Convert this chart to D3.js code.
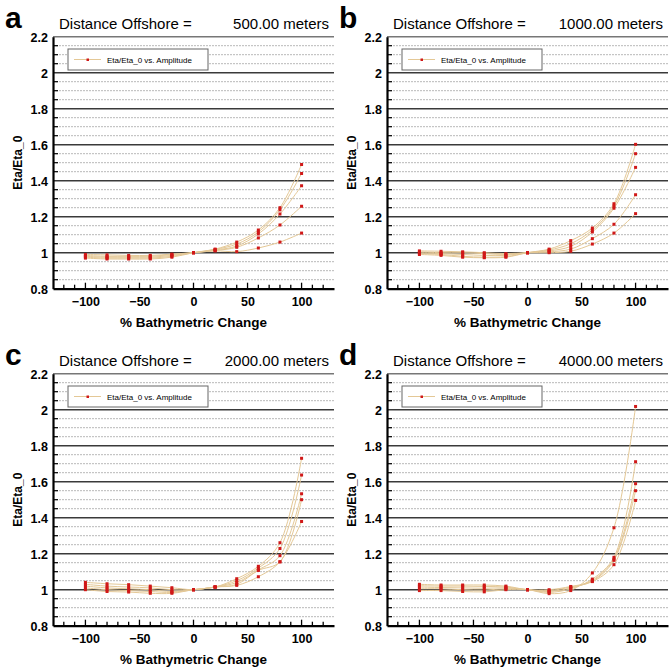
<!DOCTYPE html>
<html>
<head>
<meta charset="utf-8">
<script src="https://cdn.jsdelivr.net/npm/d3@7"></script>
<style>
  body { margin: 0; background: #fff; }
  svg { display: block; font-family: 'Liberation Sans', Arial, Helvetica, sans-serif; }
</style>
</head>
<body>
<script>
const pct = [-100, -80, -60, -40, -20, 0, 20, 40, 60, 80, 100];

const letters = ['a', 'b', 'c', 'd'];
const offshore = ['500.00', '1000.00', '2000.00', '4000.00'];
const yTicks = [0.8, 1, 1.2, 1.4, 1.6, 1.8, 2, 2.2];
const xTicks = [-100, -50, 0, 50, 100];

// Eta/Eta_0, one row per amplitude
const etaA = [
  [0.97, 0.965, 0.965, 0.965, 0.975, 1, 1.02, 1.059, 1.126, 1.25, 1.49],
  [0.975, 0.97, 0.97, 0.97, 0.98, 1, 1.018, 1.048, 1.115, 1.238, 1.44],
  [0.98, 0.975, 0.975, 0.975, 0.985, 1, 1.015, 1.037, 1.104, 1.215, 1.372],
  [0.985, 0.98, 0.98, 0.98, 0.99, 1, 1.012, 1.03, 1.082, 1.154, 1.258],
  [0.99, 0.988, 0.985, 0.985, 0.992, 1, 1.01, 1.006, 1.026, 1.059, 1.109],
];
const etaB = [
  [0.99, 0.985, 0.975, 0.972, 0.975, 1, 1.02, 1.067, 1.137, 1.272, 1.602],
  [0.995, 0.99, 0.98, 0.975, 0.978, 1, 1.015, 1.05, 1.126, 1.259, 1.55],
  [1.0, 0.995, 0.99, 0.985, 0.985, 1, 1.01, 1.035, 1.115, 1.247, 1.474],
  [1.005, 1.0, 1.0, 0.995, 0.99, 1, 1.005, 1.02, 1.078, 1.158, 1.322],
  [1.01, 1.008, 1.005, 1.0, 0.995, 1, 1.0, 1.008, 1.048, 1.109, 1.217],
];
const etaC = [
  [1.0, 0.99, 0.987, 0.98, 0.98, 1, 1.015, 1.061, 1.13, 1.261, 1.73],
  [1.01, 1.0, 0.995, 0.99, 0.985, 1, 1.015, 1.05, 1.12, 1.229, 1.637],
  [1.02, 1.01, 1.005, 1.0, 0.99, 1, 1.015, 1.04, 1.11, 1.189, 1.533],
  [1.03, 1.02, 1.015, 1.01, 1.0, 1, 1.015, 1.03, 1.107, 1.155, 1.5],
  [1.041, 1.033, 1.028, 1.02, 1.011, 1, 1.015, 1.024, 1.072, 1.155, 1.379],
];
const etaD = [
  [0.995, 0.995, 0.99, 0.988, 1.0, 1, 0.978, 0.995, 1.093, 1.344, 2.018],
  [1.005, 1.005, 1.0, 0.998, 1.005, 1, 0.985, 1.005, 1.059, 1.18, 1.711],
  [1.015, 1.012, 1.01, 1.008, 1.01, 1, 0.99, 1.01, 1.052, 1.17, 1.589],
  [1.022, 1.02, 1.02, 1.018, 1.015, 1, 0.995, 1.015, 1.045, 1.139, 1.496],
  [1.03, 1.026, 1.026, 1.026, 1.02, 1, 1.0, 1.018, 1.048, 1.163, 1.55],
];
const panels = [etaA, etaB, etaC, etaD];

const W = 669;
const H = 672;
const dx = 334;
const dy = 337;
const lineColor = '#e4c896';
const dotColor = '#d01818';

const svg = d3.select('body').append('svg').attr('width', W).attr('height', H);

const drawPanel = (series, i) => {
  const ox = (i % 2) * dx;
  const oy = Math.floor(i / 2) * dy;
  const g = svg.append('g').attr('transform', `translate(${ox}, ${oy})`);

  const x = d3.scaleLinear().domain([-130, 130]).range([53, 334]);
  const y = d3.scaleLinear().domain([0.8, 2.2]).range([288.7, 36.7]);

  // minor grid every 0.05
  const minor = d3.range(0.85, 2.2, 0.05).filter((v) => Math.abs(v * 5 - Math.round(v * 5)) > 0.01);
  g.append('g')
    .selectAll('line')
    .data(minor)
    .join('line')
    .attr('x1', x(-130))
    .attr('x2', x(130))
    .attr('y1', (d) => y(d))
    .attr('y2', (d) => y(d))
    .attr('stroke', '#b8b8b8')
    .attr('stroke-width', 1)
    .attr('stroke-dasharray', '2 1');

  // major grid
  g.append('g')
    .selectAll('line')
    .data(yTicks.slice(1))
    .join('line')
    .attr('x1', x(-130))
    .attr('x2', x(130))
    .attr('y1', (d) => y(d))
    .attr('y2', (d) => y(d))
    .attr('stroke', (d) => (d === 2.2 ? '#777' : '#3a3a3a'))
    .attr('stroke-width', 1.4);

  // minor ticks on y axis
  g.append('g')
    .selectAll('line')
    .data(minor)
    .join('line')
    .attr('x1', x(-130))
    .attr('x2', x(-130) + 5)
    .attr('y1', (d) => y(d))
    .attr('y2', (d) => y(d))
    .attr('stroke', '#000')
    .attr('stroke-width', 1.2);

  // x ticks every 10, pointing in
  g.append('g')
    .selectAll('line')
    .data(d3.range(-120, 130, 10))
    .join('line')
    .attr('x1', (d) => x(d))
    .attr('x2', (d) => x(d))
    .attr('y1', y(0.8))
    .attr('y2', (d) => y(0.8) - (d % 50 === 0 ? 6 : 4))
    .attr('stroke', '#000')
    .attr('stroke-width', 1.3);

  // axes
  const yAxis = d3.axisLeft(y).tickValues(yTicks).tickSize(0).tickPadding(5).tickFormat(d3.format('~g'));
  g.append('g')
    .attr('transform', `translate(${x(-130)}, 0)`)
    .call(yAxis)
    .call((s) => s.select('.domain').attr('stroke-width', 2.2))
    .selectAll('text')
    .attr('font-size', 12.5)
    .attr('font-weight', 'bold')
    .attr('font-family', null)
    .attr('dy', '0.36em');

  const xAxis = d3.axisBottom(x).tickValues(xTicks).tickSize(0).tickPadding(7);
  g.append('g')
    .attr('transform', `translate(0, ${y(0.8)})`)
    .call(xAxis)
    .call((s) => s.select('.domain').attr('stroke-width', 2.2))
    .selectAll('text')
    .attr('font-size', 12.5)
    .attr('font-weight', 'bold')
    .attr('font-family', null)
    .attr('dy', '0.8em');

  // curves
  const line = d3
    .line()
    .x((d, j) => x(pct[j]))
    .y((d) => y(d))
    .curve(d3.curveCatmullRom.alpha(0.5));

  g.append('g')
    .selectAll('path')
    .data(series)
    .join('path')
    .attr('d', line)
    .attr('fill', 'none')
    .attr('stroke', lineColor)
    .attr('stroke-width', 1);

  const pts = series.flatMap((row) => row.map((v, j) => ({ px: pct[j], v })));
  g.append('g')
    .selectAll('rect')
    .data(pts)
    .join('rect')
    .attr('x', (d) => x(d.px) - 1.5)
    .attr('y', (d) => y(d.v) - 1.5)
    .attr('width', 3)
    .attr('height', 3)
    .attr('fill', dotColor);

  // legend
  const lg = g.append('g').attr('transform', 'translate(68, 49)');
  lg.append('rect')
    .attr('width', 140)
    .attr('height', 21)
    .attr('fill', '#fff')
    .attr('stroke', '#666')
    .attr('stroke-width', 1);
  lg.append('line')
    .attr('x1', 6)
    .attr('x2', 33)
    .attr('y1', 10.5)
    .attr('y2', 10.5)
    .attr('stroke', lineColor)
    .attr('stroke-width', 1);
  lg.append('rect')
    .attr('x', 18.5)
    .attr('y', 9.5)
    .attr('width', 2.5)
    .attr('height', 2.5)
    .attr('fill', dotColor);
  lg.append('text')
    .attr('x', 39)
    .attr('y', 13.5)
    .attr('font-size', 8)
    .text('Eta/Eta_0 vs. Amplitude');

  // titles
  g.append('text')
    .attr('x', 5)
    .attr('y', 28)
    .attr('font-size', 30)
    .attr('font-weight', 'bold')
    .text(letters[i]);
  g.append('text')
    .attr('x', 59)
    .attr('y', 29)
    .attr('font-size', 15)
    .text('Distance Offshore =');
  g.append('text')
    .attr('x', 329)
    .attr('y', 29)
    .attr('font-size', 15)
    .attr('text-anchor', 'end')
    .text(`${offshore[i]} meters`);

  g.append('text')
    .attr('transform', `translate(22, ${(y(0.8) + y(2.2)) / 2}) rotate(-90)`)
    .attr('text-anchor', 'middle')
    .attr('font-size', 12)
    .attr('font-weight', 'bold')
    .text('Eta/Eta_0');

  g.append('text')
    .attr('x', x(0))
    .attr('y', 327)
    .attr('text-anchor', 'middle')
    .attr('font-size', 13.5)
    .attr('font-weight', 'bold')
    .text('% Bathymetric Change');
};

panels.forEach((series, i) => drawPanel(series, i));
</script>
</body>
</html>
